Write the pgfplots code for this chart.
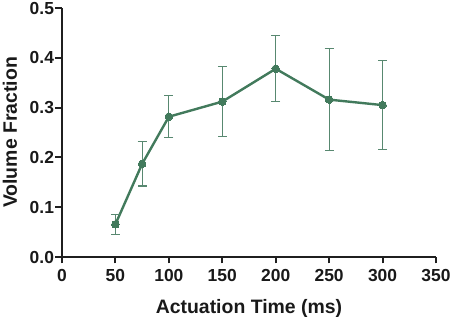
\documentclass[border=0pt]{standalone}
\usepackage{fontspec}
\setmainfont{Liberation Sans}
\usepackage{pgfplots}
\pgfplotsset{compat=1.18}
\definecolor{lgreen}{RGB}{66,122,92}
\definecolor{egreen}{RGB}{88,136,112}
\begin{document}
\begin{tikzpicture}
\useasboundingbox (0,0) rectangle (451bp,317bp);
\begin{axis}[
  at={(62bp,60bp)}, anchor=south west,
  scale only axis, width=374bp, height=249bp,
  xmin=0, xmax=350, ymin=0, ymax=0.5,
  axis lines=left,
  axis line style={-, line width=1.9bp, color=black!88},
  every tick/.style={line width=1.9bp, color=black!88},
  tick align=outside,
  major tick length=6.5bp,
  xtick={0,50,...,350},
  ytick={0,0.1,...,0.5},
  /pgf/number format/assume math mode=true,
  yticklabel style={/pgf/number format/fixed, /pgf/number format/fixed zerofill, /pgf/number format/precision=1, xshift=2bp},
  xticklabel style={yshift=-2.5bp},
  tick label style={font=\bfseries\fontsize{17.5}{20}\selectfont, text=black!90},
  label style={font=\bfseries\fontsize{19.5}{22}\selectfont, text=black!90},
  xlabel={Actuation Time (ms)},
  ylabel={Volume Fraction},
  xlabel style={at={([yshift=-56bp]axis description cs:0.5,0)}, anchor=base},
  ylabel style={at={([xshift=-45bp]axis description cs:0,0.5)}, anchor=base, rotate=0},
  clip=false,
]
\addplot[lgreen, line width=2.4bp, mark=*, mark size=3.8bp, mark options={fill=lgreen, draw=lgreen, line width=0pt},
  error bars/.cd, y dir=both, y explicit,
  error bar style={egreen, line width=1.1bp},
  error mark options={rotate=90, mark size=4.5bp, line width=1.1bp, egreen}]
coordinates {
 (50,0.0657) +- (0,0.0200)
 (75,0.187) +- (0,0.0445)
 (100,0.2817) +- (0,0.0422)
 (150,0.312) +- (0,0.0707)
 (200,0.378) +- (0,0.0665)
 (250,0.316) +- (0,0.1025)
 (300,0.305) +- (0,0.0895)
};
\end{axis}
\end{tikzpicture}
\end{document}
